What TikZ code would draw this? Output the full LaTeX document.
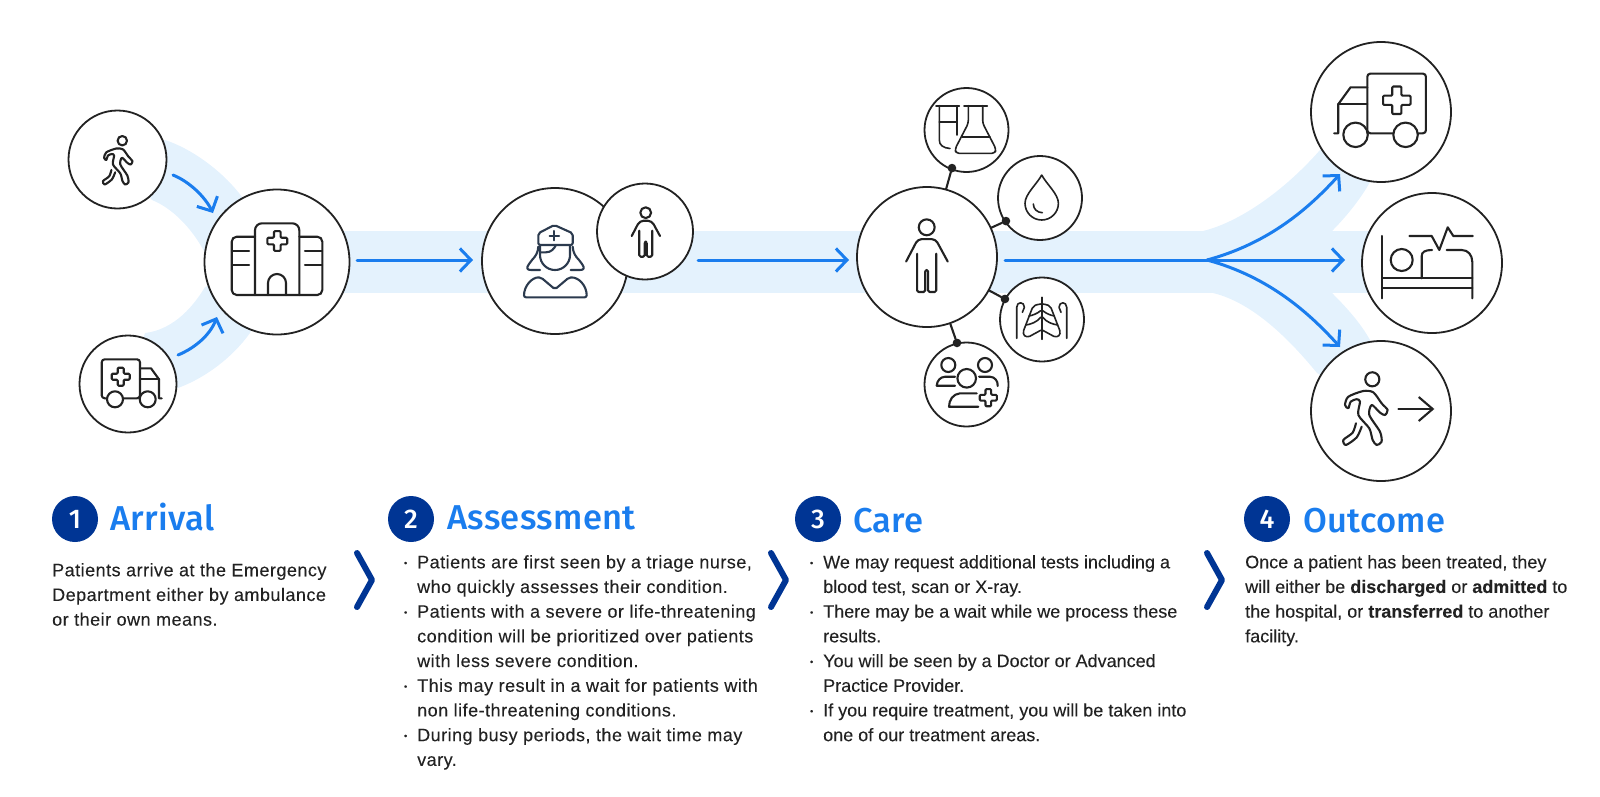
\documentclass[tikz,border=0pt]{standalone}
\usepackage{fontspec}
\setmainfont{Liberation Sans}
\newfontfamily\headfont{Fira Sans Medium}
\usetikzlibrary{arrows.meta}
\definecolor{navy}{HTML}{003594}
\definecolor{skyblue}{HTML}{1A7DEE}
\definecolor{bandblue}{HTML}{E4F2FD}
\definecolor{inkgrey}{HTML}{222222}
\definecolor{slategrey}{HTML}{2B3A4E}
\tikzset{
  band/.style={fill=bandblue},
  ring/.style={circle,draw=inkgrey,line width=1.8pt,fill=white,inner sep=0pt},
  flow/.style={draw=skyblue,line width=3pt,line cap=round,-{Straight Barb[length=11pt,width=23pt,line width=3pt]}},
  icon/.style={draw=inkgrey,line width=2.1pt,line cap=round,line join=round},
  thinicon/.style={icon,line width=1.6pt},
  badge/.style={circle,fill=navy,text=white,minimum size=46pt,inner sep=0pt,font=\headfont\fontsize{27}{27}\selectfont},
  heading/.style={anchor=base west,inner sep=0pt,text=skyblue,font=\headfont\fontsize{34.5}{34.5}\selectfont\addfontfeature{LetterSpace=1}},
  body/.style={anchor=north west,inner sep=0pt,align=left,text=inkgrey,font=\fontsize{18}{24.7}\selectfont\addfontfeature{FakeBold=0.1}},
  bodywide/.style={body,font=\fontsize{18}{24.7}\selectfont\addfontfeature{FakeBold=0.1,LetterSpace=2.7}},
  chevron/.style={draw=navy,line width=6pt,line cap=round,line join=round},
  joint/.style={circle,fill=inkgrey,minimum size=8.5pt,inner sep=0pt}
}
\newcommand{\itm}{\makebox[0pt][r]{\raisebox{2.2pt}{\fontsize{9}{9}\selectfont•}\hspace{10pt}}}
\newcommand{\medcross}[3]{% x, y, scale
  \draw[icon,rounded corners=1pt,shift={(#1,#2)},scale=#3]
    (-3,-9) -- (3,-9) -- (3,-3) -- (9,-3) -- (9,3) -- (3,3) -- (3,9) -- (-3,9)
    -- (-3,3) -- (-9,3) -- (-9,-3) -- (-3,-3) -- cycle;
}
\newcommand{\walker}[3]{% head x, y, scale
  \begin{scope}[shift={(#1,#2)},scale=#3]
    \draw[icon] (0,0) circle[radius=4.7];
    \draw[icon] plot[smooth cycle,tension=0.45] coordinates {(-6,7.8) (0.7,8.7) (6.2,16) (10.2,20.4)
      (8.4,23.8) (5.1,22.2) (-0.4,17.1) (-2,23.8) (5.1,34.9) (6.2,41.6) (2.9,43.8) (0.2,40.4)
      (-2,32.7) (-9.3,23.8) (-8.2,14.9) (-10.4,13.3) (-14.4,14.9) (-16,19.3) (-18.2,17.1) (-16,11.6)};
    \draw[icon] plot[smooth,tension=0.45] coordinates {(-10.9,29.3) (-13.1,35.6) (-19.3,40.4)
      (-17.6,43.8) (-10.4,38.7) (-7.1,31.6)};
  \end{scope}
}
\newcommand{\wagon}[4]{% x, y, xscale, yscale
  \begin{scope}[shift={(#1,#2)},xscale=#3,yscale=#4]
    \draw[icon,rounded corners=3pt] (-38.3,-39) rectangle (0,0);
    \draw[icon] (0,-30) -- (11,-30) -- (19,-19) -- (19,0) -- (21.7,0);
    \draw[icon] (0,-19) -- (19,-19);
    \draw[icon,fill=white] (-25,1) circle[radius=8];
    \draw[icon,fill=white] (7.7,1) circle[radius=8];
    \medcross{-19.3}{-21.6}{1}
  \end{scope}
}
\newcommand{\bodyfig}[3]{% head x, y, scale
  \begin{scope}[shift={(#1,#2)},scale=#3]
    \draw[icon] (0,0) circle[radius=5.4];
    \draw[icon,rounded corners=4pt] (-14,23.3) -- (-6,8) -- (6,8) -- (14.3,23.3);
    \draw[icon,rounded corners=1.5pt] (-6.5,18) -- (-6.5,44) -- (-1,44) -- (-1,29) -- (1,29)
      -- (1,44) -- (6.5,44) -- (6.5,18);
  \end{scope}
}
\begin{document}
\begin{tikzpicture}[x=1pt,y=-1pt]
  \useasboundingbox (0,0) rectangle (1600,796);

  \fill[band] (165,140) .. controls (190,148) and (222,170) .. (242,197) -- (277,262) -- (205,253)
    .. controls (192,228) and (172,208) .. (152,200) -- (117,159) -- cycle;
  \fill[band] (178,388) .. controls (205,378) and (232,358) .. (250,333) -- (277,262) -- (205,287)
    .. controls (190,312) and (170,330) .. (145,333) -- (128,384) -- cycle;
  \fill[band] (277,231) rectangle (1432,293);
  \fill[band] (1203,231) .. controls (1240,222) and (1285,190) .. (1320,150) -- (1381,112) -- (1370,182)
    .. controls (1360,200) and (1345,218) .. (1332,231) -- cycle;
  \fill[band] (1213,293) .. controls (1250,302) and (1285,334) .. (1317,373) -- (1381,411) -- (1370,340)
    .. controls (1360,322) and (1345,306) .. (1332,293) -- cycle;

  \node[joint] (jflask) at (952,168) {};
  \node[joint] (jdrop) at (1006,221) {};
  \node[joint] (jlung) at (1005,299) {};
  \node[joint] (jteam) at (957,343) {};
  \coordinate (hub) at (927,257);
  \draw[icon] (hub) -- (jflask);
  \draw[icon] (hub) -- (jdrop);
  \draw[icon] (hub) -- (jlung);
  \draw[icon] (hub) -- (jteam);

  \node[ring,minimum size=98pt] (walkin) at (117.5,159.5) {};
  \node[ring,minimum size=97pt] (ambin) at (128,384) {};
  \node[ring,minimum size=145pt] (hospital) at (277,262) {};
  \node[ring,minimum size=146pt] (nurse) at (555,261) {};
  \node[ring,minimum size=96pt] (patient) at (645,231.5) {};
  \node[ring,minimum size=140pt] (care) at (hub) {};
  \node[ring,minimum size=84pt] (flask) at (966.5,130) {};
  \node[ring,minimum size=84pt] (drop) at (1040,198) {};
  \node[ring,minimum size=84pt] (lung) at (1042,319.5) {};
  \node[ring,minimum size=84pt] (team) at (966.5,384.5) {};
  \node[ring,minimum size=140pt] (ambout) at (1381,112) {};
  \node[ring,minimum size=140pt] (bed) at (1432,263) {};
  \node[ring,minimum size=140pt] (walkout) at (1381,411) {};
  \node[joint] at (jflask) {};
  \node[joint] at (jdrop) {};
  \node[joint] at (jlung) {};
  \node[joint] at (jteam) {};

  \coordinate (w1) at (173,175);
  \coordinate (w2) at (213,213);
  \coordinate (a1) at (178,355);
  \coordinate (a2) at (217,317);
  \coordinate (h1) at (357,260);
  \coordinate (h2) at (473,260);
  \coordinate (n1) at (698,260);
  \coordinate (n2) at (849,260);
  \coordinate (c1) at (1005,260);
  \coordinate (fork) at (1207,260);
  \coordinate (o1) at (1340,174);
  \coordinate (o2) at (1345,260);
  \coordinate (o3) at (1340,347);
  \draw[flow] (w1) .. controls (190,182) and (205,197) .. (w2);
  \draw[flow] (a1) .. controls (195,348) and (210,335) .. (a2);
  \draw[flow] (h1) -- (h2);
  \draw[flow] (n1) -- (n2);
  \draw[draw=skyblue,line width=3pt,line cap=round] (c1) -- (fork);
  \draw[flow] (fork) .. controls (1270,243) and (1310,207) .. (o1);
  \draw[flow] (fork) -- (o2);
  \draw[flow] (fork) .. controls (1270,277) and (1310,314) .. (o3);

  \walker{122.3}{140.7}{1}
  \wagon{140}{398.3}{1}{1}

  \draw[icon,rounded corners=7pt] (255,295) -- (255,223.3) -- (299.3,223.3) -- (299.3,295);
  \draw[icon,rounded corners=5pt] (255,236.7) -- (231.7,236.7) -- (231.7,295) -- (322.3,295)
    -- (322.3,236.7) -- (299.3,236.7);
  \draw[icon] (232,251) -- (249,251);
  \draw[icon] (232,265) -- (249,265);
  \draw[icon] (305,251) -- (322,251);
  \draw[icon] (305,265) -- (322,265);
  \draw[icon] (268,295) -- (268,283) arc[start angle=180,end angle=360,radius=9] -- (286,295);
  \medcross{277.3}{241}{1.1}

  \begin{scope}[icon/.append style={draw=slategrey}]
    \draw[icon,rounded corners=2pt] (538.3,245) -- (538.3,233.3) -- (554.3,225) -- (572.7,233.3) -- (572.7,245) -- cycle;
    \draw[icon] (554.3,231) -- (554.3,240.4);
    \draw[icon] (549.6,235.7) -- (559,235.7);
    \draw[icon] (540,252.3) -- (546,252.3) .. controls (551,252.3) and (554,249) .. (556,245);
    \draw[icon] (540,246) -- (540,255) arc[start angle=180,end angle=0,radius=15] -- (570,246);
    \draw[icon] (538.3,246.7) .. controls (538,252) and (536,256) .. (532,260) -- (529,264)
      .. controls (526,268) and (527,270) .. (531,270) -- (540,270);
    \draw[icon] (572.7,246.7) .. controls (573,252) and (575,256) .. (579,260) -- (582,264)
      .. controls (585,268) and (584,270) .. (580,270) -- (570.7,270);
    \draw[icon,rounded corners=2pt] (555,289.3) -- (541,277.5)
      .. controls (532,277) and (524,286) .. (524,297.3) -- (586.7,297.3)
      .. controls (586.7,286) and (579,277) .. (569,277.5) -- cycle;
  \end{scope}

  \bodyfig{645.7}{212.7}{1}
  \bodyfig{926.7}{227.3}{1.47}

  \draw[thinicon] (936,105.7) -- (959.3,105.7);
  \draw[thinicon] (939.3,105.7) -- (939.3,140) .. controls (939.3,145) and (943,148) .. (950,148.5);
  \draw[thinicon] (956.7,105.7) -- (956.7,135);
  \draw[thinicon] (939.3,121.7) -- (956.7,121.7);
  \draw[thinicon] (964,105.7) -- (987.3,105.7);
  \draw[thinicon,rounded corners=3pt] (968.3,105.7) -- (968.3,123.3) -- (955,149) -- (956,153.3)
    -- (995,153.3) -- (996,149) -- (982.7,123.3) -- (982.7,105.7);
  \draw[thinicon] (962.3,136.7) -- (990,136.7);

  \draw[thinicon] (1041.7,175) .. controls (1037,184) and (1025,194) .. (1025,203.3)
    arc[start angle=180,end angle=0,radius=16.7]
    .. controls (1058.4,194) and (1046.4,184) .. (1041.7,175);
  \draw[thinicon] (1033.3,204) .. controls (1033.5,209) and (1037,212.5) .. (1042.3,212.7);

  \draw[thinicon] (1041.7,297.3) -- (1041.7,339.3);
  \foreach \side in {1,-1}{
    \begin{scope}[shift={(1041.7,297.3)},xscale=\side]
      \draw[thinicon] (-25,41) -- (-25,10) .. controls (-25,4) and (-17.3,4) .. (-17.3,10) -- (-19.3,15);
      \draw[thinicon] (-1,6.7) .. controls (-6,7.5) and (-8,8) .. (-9.5,11) -- (-18,33)
        .. controls (-19.5,38) and (-16,40.5) .. (-12,39) -- (-1,33);
      \draw[thinicon] (-12.7,18.7) .. controls (-9,18) and (-5,16.5) .. (-1,13.4);
      \draw[thinicon] (-16,27.7) .. controls (-11,27) and (-5,25) .. (-1,20);
    \end{scope}
  }

  \draw[icon] (948.3,365) circle[radius=7];
  \draw[icon] (985,365) circle[radius=7];
  \draw[icon] (966.7,378.3) circle[radius=9.3];
  \draw[icon] (955,376.7) -- (945,376.7) .. controls (940,377) and (937,381) .. (936.7,385.7) -- (955,385.7);
  \draw[icon] (979,376.7) -- (990,376.7) .. controls (995,377) and (998,381) .. (997.7,386);
  \draw[icon] (976.7,393.3) -- (960,393.3) .. controls (953,394) and (949,400) .. (949,406.7) -- (978.3,406.7);
  \medcross{988.3}{397.7}{0.95}

  \wagon{1367.3}{133.3}{-1.53}{1.53}

  \draw[icon] (1382.3,236) -- (1382.3,298.3);
  \draw[icon] (1382.3,278.3) -- (1472.3,278.3);
  \draw[icon] (1382.3,288.3) -- (1472.3,288.3);
  \draw[icon] (1472.3,298.3) -- (1472.3,262) .. controls (1472.3,255) and (1468,250) .. (1461.7,250) -- (1446.7,250);
  \draw[icon] (1401.7,260) circle[radius=11];
  \draw[icon] (1421.7,278.3) -- (1421.7,256) .. controls (1421.7,252) and (1425,250) .. (1432,250);
  \draw[icon] (1409.3,236) -- (1431.7,236) -- (1439.3,250) -- (1447.7,227.3) -- (1453.3,236) -- (1472.7,236);

  \walker{1372.3}{379.3}{1.5}
  \coordinate (x1) at (1398.3,409);
  \coordinate (x2) at (1434.3,409);
  \draw[icon,-{Straight Barb[length=14pt,width=24pt,line width=2.1pt]}] (x1) -- (x2);

  \node[badge] (b1) at (75,519) {1};
  \node[badge] (b2) at (411,519) {2};
  \node[badge] (b3) at (818,519) {3};
  \node[badge] (b4) at (1267,519) {4};
  \node[heading] (t1) at (110,530) {Arrival};
  \node[heading] (t2) at (447,529) {Assessment};
  \node[heading] (t3) at (853,532) {Care};
  \node[heading] (t4) at (1303,532) {Outcome};

  \node[bodywide] (p1) at (52,563) {Patients arrive at the Emergency\\Department either by ambulance\\or their own means.};
  \node[bodywide] (p2) at (417,555) {\itm Patients are first seen by a triage nurse,\\who quickly assesses their condition.\\\itm Patients with a severe or life-threatening\\condition will be prioritized over patients\\with less severe condition.\\\itm This may result in a wait for patients with\\non life-threatening conditions.\\\itm During busy periods, the wait time may\\vary.};
  \node[body] (p3) at (823,555) {\itm We may request additional tests including a\\blood test, scan or X-ray.\\\itm There may be a wait while we process these\\results.\\\itm You will be seen by a Doctor or Advanced\\Practice Provider.\\\itm If you require treatment, you will be taken into\\one of our treatment areas.};
  \node[body] (p4) at (1245,555) {Once a patient has been treated, they\\will either be \textbf{discharged} or \textbf{admitted} to\\the hospital, or \textbf{transferred} to another\\facility.};

  \draw[chevron] (357,553) -- (372,580) -- (357,607);
  \draw[chevron] (771,553) -- (786,580) -- (771,607);
  \draw[chevron] (1207,553) -- (1222,580) -- (1207,607);
\end{tikzpicture}
\end{document}
